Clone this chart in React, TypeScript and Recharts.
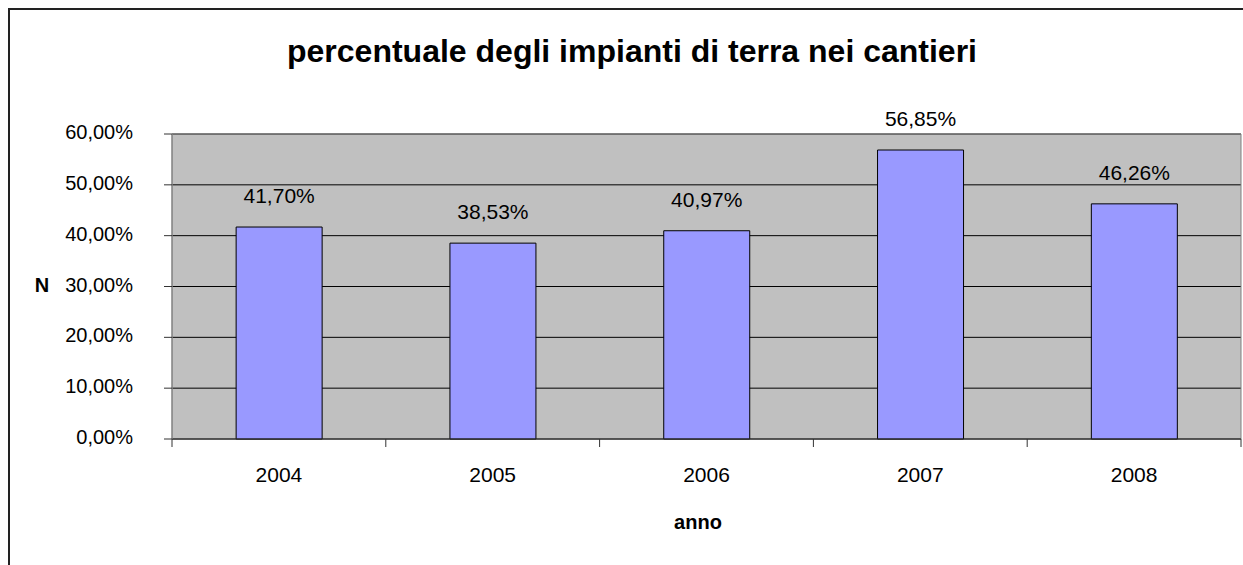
import React from 'react';
import { BarChart, Bar, XAxis, YAxis, CartesianGrid, LabelList, ReferenceArea, Customized } from 'recharts';

const years = ['2004', '2005', '2006', '2007', '2008'];
const percentages = [41.70, 38.53, 40.97, 56.85, 46.26];
const yTicks = [0, 10, 20, 30, 40, 50, 60];
const title = 'percentuale degli impianti di terra nei cantieri';
const xTitle = 'anno';
const yTitle = 'N';

const data = years.map((y, i) => ({ anno: y, value: percentages[i] }));

const FONT = 'Liberation Sans, Arial, sans-serif';
const fmt = (v: number) => Number(v).toFixed(2).replace('.', ',') + '%';

const XTick = (props: any) => {
  const { x, y, payload, index } = props;
  const off = payload && payload.offset ? payload.offset : 0;
  return (
    <g>
      <line x1={x - off} x2={x - off} y1={y} y2={y + 8} stroke="#333" />
      {index === years.length - 1 && (
        <line x1={x + off} x2={x + off} y1={y} y2={y + 8} stroke="#333" />
      )}
      <text x={x} y={y + 43} textAnchor="middle" style={{ fontSize: '21px', fontFamily: FONT, fill: '#000' }}>
        {payload.value}
      </text>
    </g>
  );
};

const YTick = (props: any) => {
  const { x, y, payload } = props;
  return (
    <text x={x + 1} y={y} dy={5} textAnchor="end" style={{ fontSize: '20px', fontFamily: FONT, fill: '#000' }}>
      {fmt(payload.value)}
    </text>
  );
};

const Titles = () => (
  <g>
    <text x={624} y={54} textAnchor="middle" style={{ fontSize: '32px', fontWeight: 'bold', fontFamily: FONT, fill: '#000' }}>
      {title}
    </text>
    <text x={690} y={521} textAnchor="middle" style={{ fontSize: '20px', fontWeight: 'bold', fontFamily: FONT, fill: '#000' }}>
      {xTitle}
    </text>
    <text x={34} y={284} textAnchor="middle" style={{ fontSize: '20px', fontWeight: 'bold', fontFamily: FONT, fill: '#000' }}>
      {yTitle}
    </text>
  </g>
);

export default function App() {
  return (
    <div style={{ position: 'fixed', left: 0, top: 0, width: 1243, height: 565, overflow: 'hidden', background: '#fff' }}>
      <div style={{ position: 'absolute', left: 8, top: 8, width: 1300, height: 600, borderLeft: '2px solid #222', borderTop: '2px solid #222' }} />
      <div style={{ position: 'absolute', left: 8, top: 8 }}>
        <BarChart
          width={1235}
          height={557}
          data={data}
          margin={{ top: 126, right: 2, bottom: 0, left: 74 }}
          barCategoryGap="30%"
        >
          <CartesianGrid vertical={false} stroke="#000" fill="#C0C0C0" />
          <ReferenceArea y1={0} y2={60} fill="none" stroke="#808080" ifOverflow="visible" />
          <XAxis
            dataKey="anno"
            height={126}
            tickSize={0}
            tickMargin={0}
            tickLine={false}
            axisLine={{ stroke: '#333' }}
            tick={<XTick />}
            interval={0}
          />
          <YAxis
            width={90}
            domain={[0, 60]}
            ticks={yTicks}
            interval={0}
            tickSize={8}
            tickMargin={32}
            tickLine={{ stroke: '#333' }}
            axisLine={{ stroke: '#808080' }}
            tick={<YTick />}
          />
          <Bar dataKey="value" fill="#9999FF" stroke="#000" strokeWidth={1} isAnimationActive={false}>
            <LabelList
              dataKey="value"
              position="top"
              offset={24}
              formatter={(v: any) => fmt(v)}
              style={{ fontSize: 21, fill: '#000', fontFamily: FONT }}
            />
          </Bar>
          <Customized component={Titles} />
        </BarChart>
      </div>
    </div>
  );
}
